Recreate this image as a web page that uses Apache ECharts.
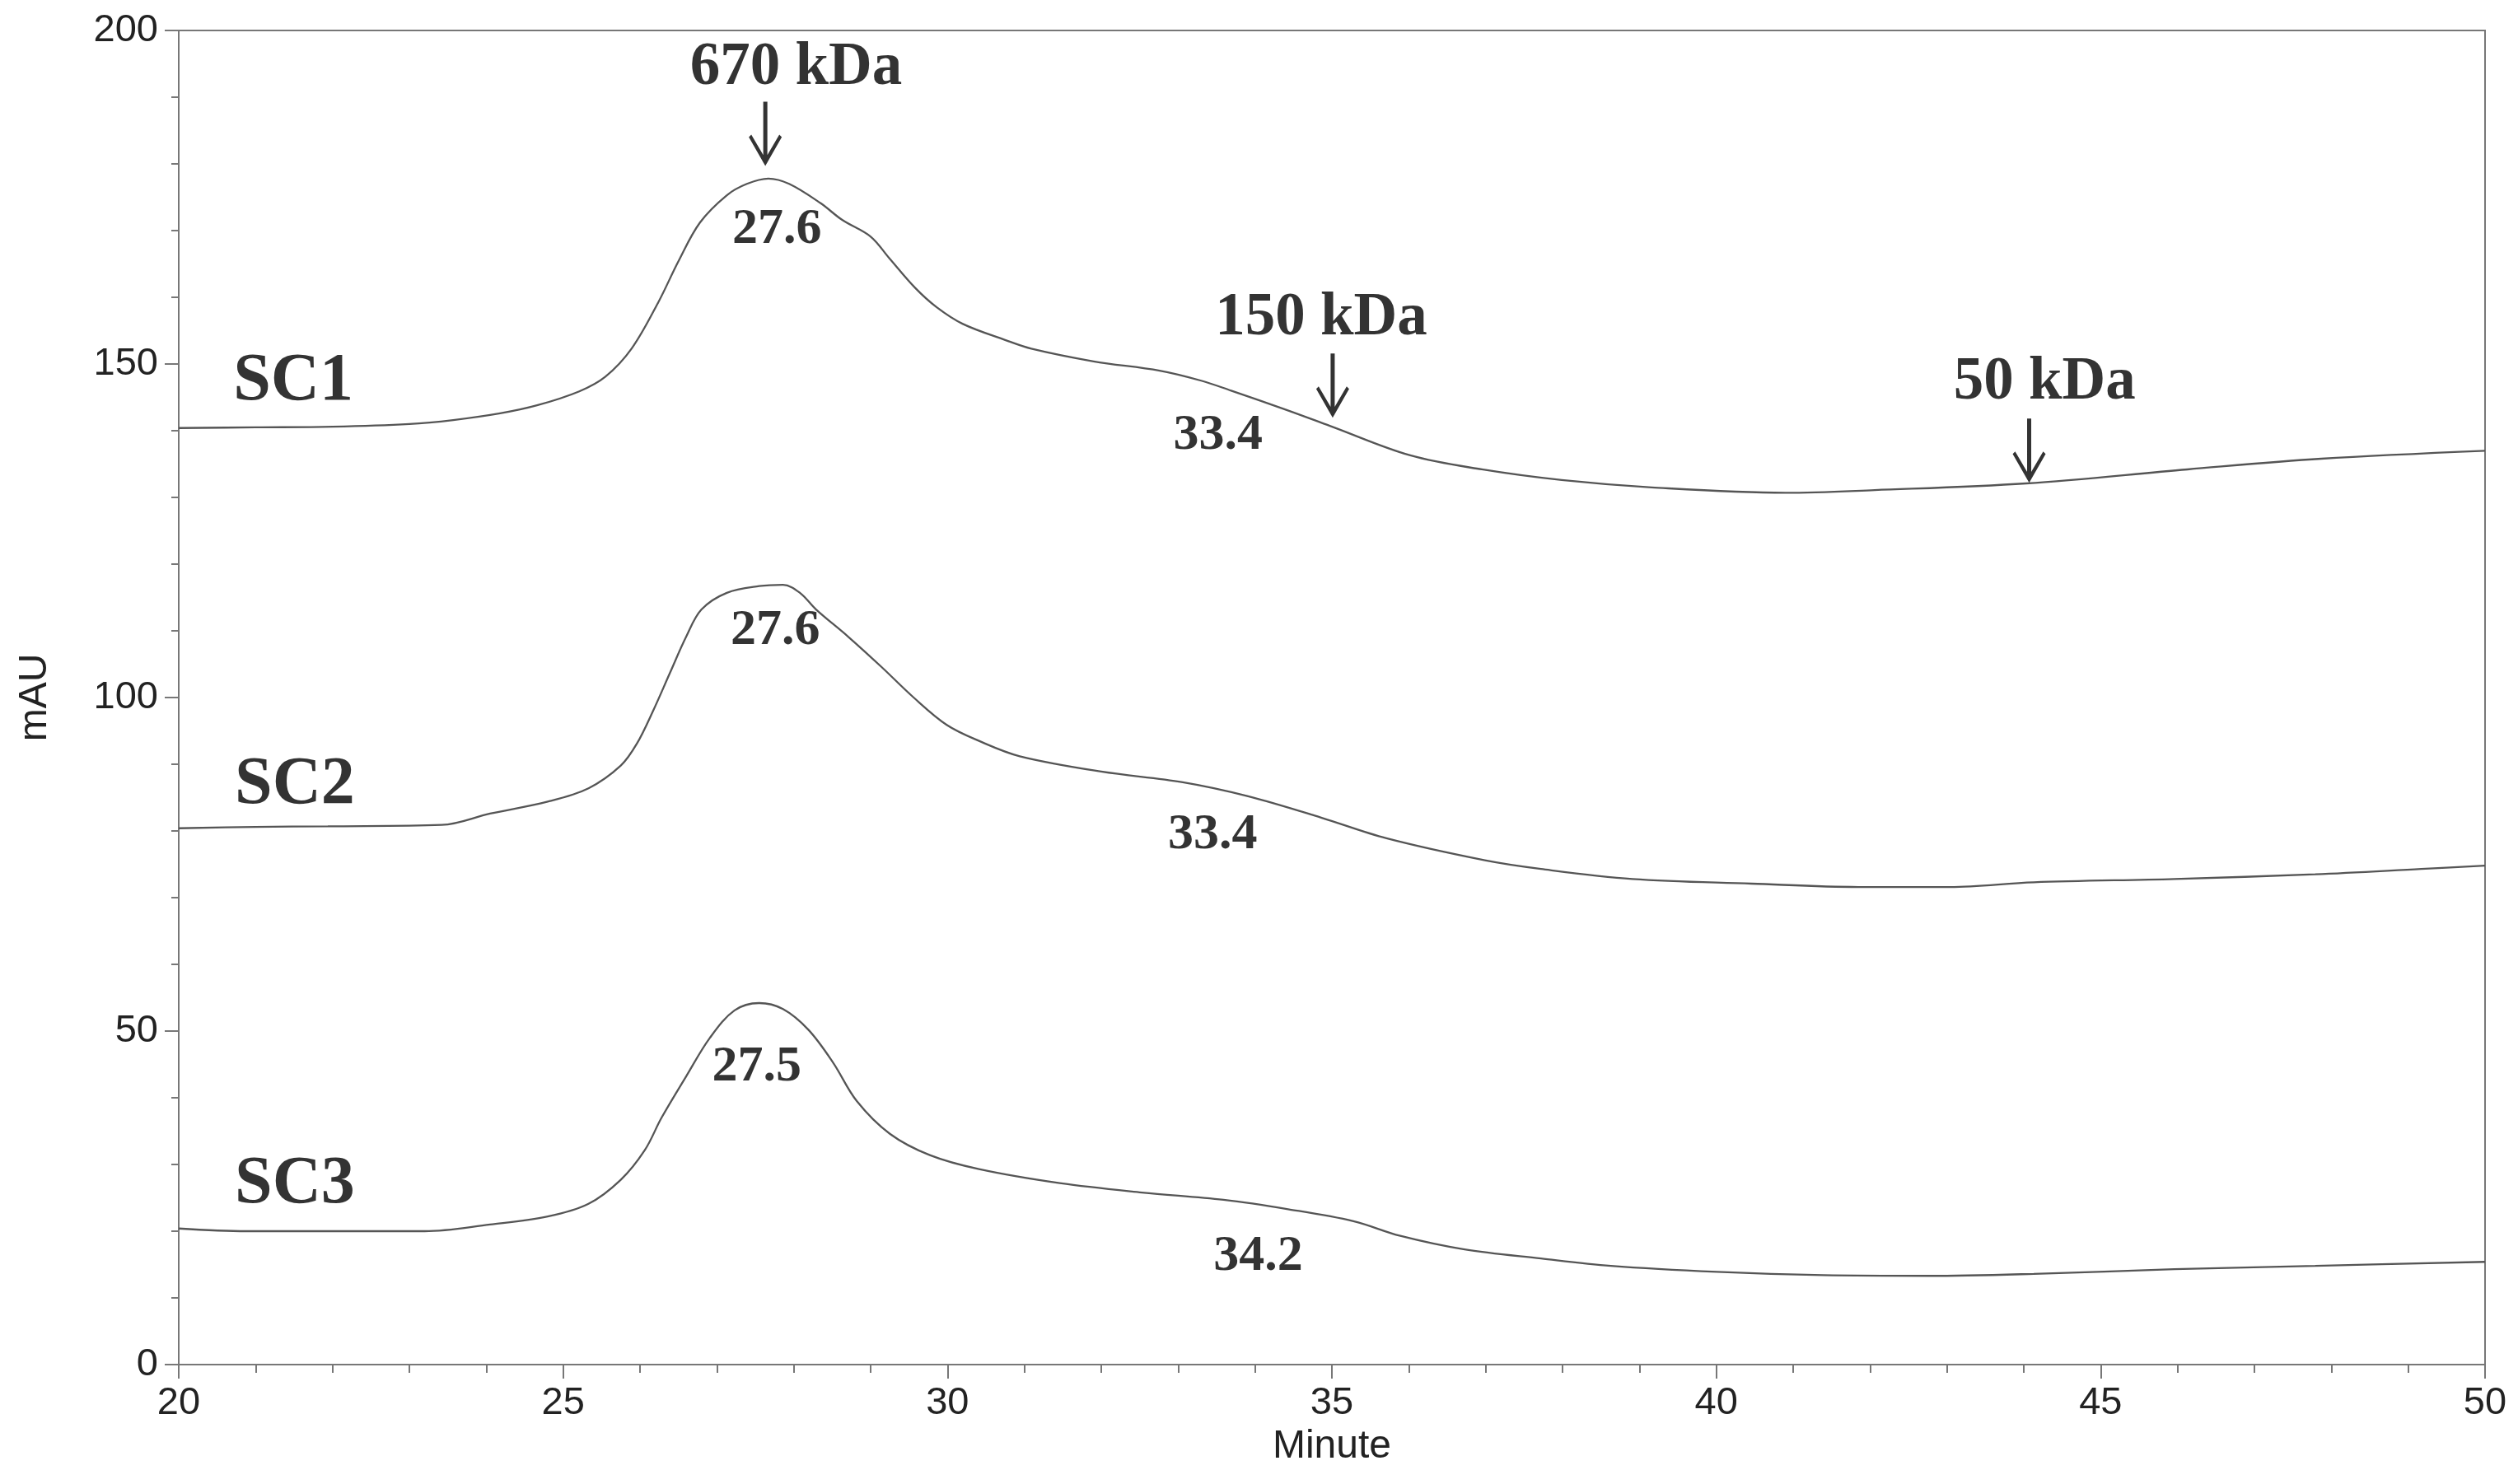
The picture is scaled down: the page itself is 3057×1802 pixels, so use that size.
<!DOCTYPE html>
<html>
  <head>
    <meta charset="UTF-8" />
    <title>SEC chromatogram</title>
    <style type="text/css">
      html,
      body {
        width: 100%;
        height: 100%;
        margin: 0;
        padding: 0;
        overflow: hidden;
        background: #fff;
      }
      #chart {
        width: 100%;
        height: 100%;
      }
    </style>
  </head>
  <body>
    <div id="chart"></div>
    <script src="https://cdn.jsdelivr.net/npm/echarts@6/dist/echarts.min.js"></script>
    <script type="text/javascript">
      // traces: [minute, mAU]
      const sc1 = [
        [20.0, 140.4], [21.0, 140.5], [22.0, 140.6], [23.0, 141.0], [23.57, 141.6],
        [24.18, 142.6], [24.66, 143.8], [25.21, 145.9], [25.55, 148.1], [25.89, 152.3],
        [26.24, 159.3], [26.5, 165.4], [26.78, 171.2], [27.13, 175.3], [27.39, 177.0],
        [27.67, 177.8], [27.94, 177.0], [28.35, 174.1], [28.63, 171.6], [29.0, 169.1],
        [29.24, 165.9], [29.58, 161.4], [29.86, 158.5], [30.2, 156.0], [30.75, 153.6],
        [31.09, 152.3], [31.9, 150.4], [32.76, 149.0], [33.3, 147.5], [33.69, 146.0],
        [34.39, 143.2], [34.98, 140.7], [36.02, 136.3], [36.95, 134.2], [37.99, 132.6],
        [39.16, 131.5], [40.9, 130.7], [42.06, 131.1], [44.03, 132.1], [46.13, 134.2],
        [47.87, 135.8], [50.0, 137.0]
      ];
      const sc2 = [
        [20.0, 80.4], [21.0, 80.6], [21.94, 80.7], [23.42, 80.9], [24.05, 82.6],
        [24.8, 84.4], [25.33, 86.4], [25.75, 89.8], [25.96, 93.1], [26.17, 98.0],
        [26.39, 103.7], [26.6, 109.1], [26.8, 113.2], [27.13, 115.7], [27.55, 116.7],
        [27.86, 116.9], [28.08, 115.7], [28.29, 113.2], [28.71, 109.1], [29.14, 104.6],
        [29.56, 100.0], [29.99, 95.9], [30.41, 93.5], [30.94, 91.2], [32.0, 88.9],
        [33.06, 87.3], [33.91, 85.2], [34.86, 82.0], [35.71, 78.9], [36.99, 75.6],
        [37.72, 74.3], [38.91, 72.8], [40.46, 72.1], [41.85, 71.6], [43.04, 71.6],
        [44.13, 72.3], [45.96, 72.8], [47.79, 73.5], [49.17, 74.3], [50.0, 74.8]
      ];
      const sc3 = [
        [20.0, 20.4], [20.88, 20.0], [23.2, 20.0], [24.05, 21.0], [24.8, 22.2],
        [25.33, 24.1], [25.75, 27.7], [26.06, 32.1], [26.28, 37.0], [26.6, 43.2],
        [26.91, 49.0], [27.23, 53.1], [27.55, 54.2], [27.86, 53.3], [28.19, 50.2],
        [28.51, 45.3], [28.82, 39.5], [29.25, 34.6], [29.77, 31.4], [30.41, 29.3],
        [31.46, 27.2], [32.53, 25.8], [33.59, 24.7], [34.43, 23.3], [35.28, 21.5],
        [35.89, 19.3], [36.71, 17.3], [37.72, 15.9], [38.63, 14.8], [40.01, 13.9],
        [41.39, 13.4], [42.76, 13.3], [44.13, 13.6], [45.96, 14.3], [47.79, 14.8],
        [50.0, 15.4]
      ];

      // annotations: [minute, mAU, text]
      const kdaLabels = [
        [28.03, 194.3, "670 kDa"],
        [34.86, 156.8, "150 kDa"],
        [44.27, 147.2, "50 kDa"]
      ];
      const peakLabels = [
        [27.78, 170.1, "27.6"],
        [33.52, 139.3, "33.4"],
        [27.76, 110.0, "27.6"],
        [33.45, 79.4, "33.4"],
        [27.52, 44.6, "27.5"],
        [34.04, 16.2, "34.2"]
      ];
      const sampleLabels = [
        [21.49, 147.3, "SC1"],
        [21.51, 86.8, "SC2"],
        [21.51, 26.9, "SC3"]
      ];
      // arrow: [minute, top of shaft, tip]
      const arrows = [
        [27.63, 189.1, 179.9],
        [35.01, 151.5, 142.0],
        [44.07, 141.9, 132.1]
      ];

      const axisGrey = "#777777";
      const traceColor = "#555555";
      const serif = "Liberation Serif";

      const arrowPath =
        "path://M17.5,0 L22.5,0 L22.5,74 L17.5,74 Z M20,78 L0,43 L3,40 L20,69 L37,40 L40,43 Z";

      function traceSeries(name, data) {
        return {
          name: name,
          type: "line",
          data: data,
          showSymbol: false,
          smooth: 0.35,
          lineStyle: { color: traceColor, width: 2.3 },
          silent: true,
          z: 2
        };
      }

      function textSeries(name, data, size) {
        return {
          name: name,
          type: "scatter",
          data: data,
          symbolSize: 0,
          silent: true,
          z: 5,
          label: {
            show: true,
            position: "inside",
            formatter: (p) => p.value[2],
            fontFamily: serif,
            fontWeight: "bold",
            fontSize: size,
            color: "#000",
            align: "center",
            verticalAlign: "middle"
          }
        };
      }

      const chart = echarts.init(document.getElementById("chart"));
      chart.setOption({
        backgroundColor: "#ffffff",
        animation: false,
        grid: {
          left: 217,
          right: 40,
          top: 37,
          bottom: 145,
          show: true,
          borderColor: axisGrey,
          borderWidth: 2
        },
        xAxis: {
          type: "value",
          min: 20,
          max: 50,
          interval: 5,
          name: "Minute",
          nameLocation: "middle",
          nameGap: 76,
          nameTextStyle: { fontFamily: "Liberation Sans", fontSize: 48, color: "#222" },
          axisLine: { show: true, lineStyle: { color: axisGrey, width: 2 } },
          axisTick: { show: true, inside: false, length: 17, lineStyle: { color: axisGrey, width: 2 } },
          minorTick: { show: true, splitNumber: 5, length: 10, lineStyle: { color: axisGrey, width: 2 } },
          splitLine: { show: false },
          axisLabel: { fontFamily: "Liberation Sans", fontSize: 47, color: "#222", margin: 24 }
        },
        yAxis: {
          type: "value",
          min: 0,
          max: 200,
          interval: 50,
          name: "mAU",
          nameLocation: "middle",
          nameGap: 150,
          nameTextStyle: { fontFamily: "Liberation Sans", fontSize: 48, color: "#222" },
          axisLine: { show: true, lineStyle: { color: axisGrey, width: 2 } },
          axisTick: { show: true, inside: false, length: 17, lineStyle: { color: axisGrey, width: 2 } },
          minorTick: { show: true, splitNumber: 5, length: 9, lineStyle: { color: axisGrey, width: 2 } },
          splitLine: { show: false },
          axisLabel: { fontFamily: "Liberation Sans", fontSize: 47, color: "#222", margin: 25 }
        },
        series: [
          traceSeries("SC1", sc1),
          traceSeries("SC2", sc2),
          traceSeries("SC3", sc3),
          textSeries("kDa", kdaLabels, 73),
          textSeries("peaks", peakLabels, 62),
          textSeries("samples", sampleLabels, 82),
          {
            name: "arrows",
            type: "scatter",
            data: arrows.map((a) => [a[0], (a[1] + a[2]) / 2]),
            symbol: arrowPath,
            symbolSize: [40, 78],
            itemStyle: { color: "#000" },
            silent: true,
            z: 6
          }
        ]
      });
    </script>
  </body>
</html>
